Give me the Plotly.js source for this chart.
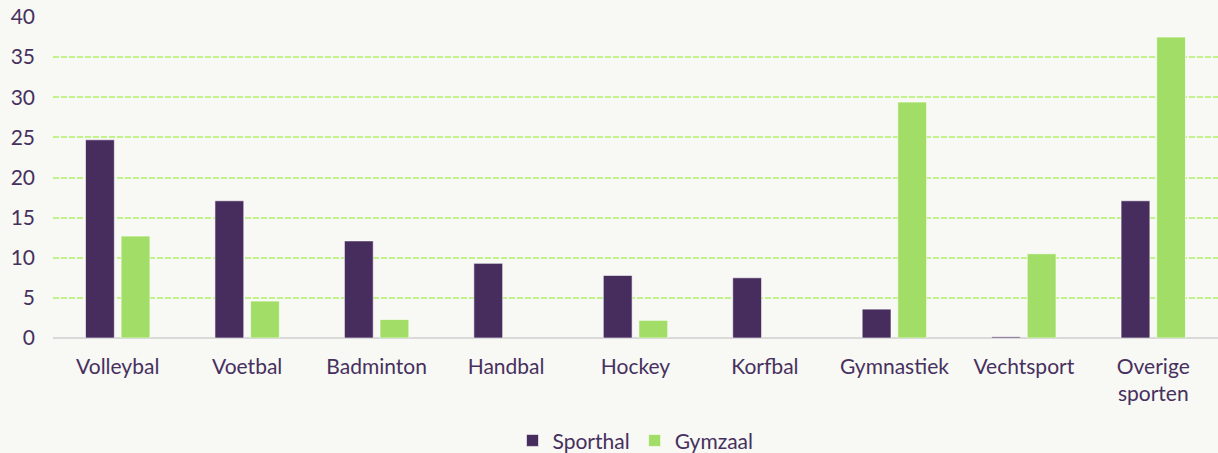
<!DOCTYPE html>
<html>
<head>
<meta charset="utf-8">
<script src="https://cdn.plot.ly/plotly-3.0.1.min.js"></script>
<style>
html,body{margin:0;padding:0;background:#f8f8f4;}
#chart{width:1218px;height:453px;}
</style>
</head>
<body>
<div id="chart"></div>
<script>
const categories = ["Volleybal","Voetbal","Badminton","Handbal","Hockey","Korfbal","Gymnastiek","Vechtsport","Overige<br>sporten"];
const sporthal = [24.7, 17.1, 12.1, 9.3, 7.8, 7.5, 3.6, 0.15, 17.1];
const gymzaal = [12.7, 4.6, 2.3, 0, 2.2, 0, 29.4, 10.5, 37.5];
const yTicks = [0,5,10,15,20,25,30,35,40];

const textColor = "#46305e";
const outline = vals => ({color:"rgba(255,255,255,0.6)", width: vals.map(v => v > 0 ? 1 : 0)});
const traces = [
  {type:"bar", name:"Sporthal", x:categories, y:sporthal,
   marker:{color:"#472c5e", line:outline(sporthal)}, hoverinfo:"skip"},
  {type:"bar", name:"Gymzaal", x:categories, y:gymzaal,
   marker:{color:"#a2de67", line:outline(gymzaal)}, hoverinfo:"skip"}
];
const layout = {
  width:1218, height:453,
  paper_bgcolor:"#f8f8f4", plot_bgcolor:"#f8f8f4",
  margin:{l:53, r:0, t:17, b:115, autoexpand:false},
  font:{family:"Lato, 'Open Sans', sans-serif", size:21, color:textColor},
  barmode:"group", bargap:0.45, bargroupgap:0.19,
  showlegend:true,
  legend:{orientation:"h", x:0.5, xanchor:"center", yref:"container", y:0.027, yanchor:"middle",
          font:{size:21, color:textColor}, itemwidth:30, tracegroupgap:0},
  xaxis:{type:"category", showgrid:false, zeroline:false, showline:false, ticks:"", automargin:false,
         tickfont:{size:21,color:textColor}, tickangle:0, ticklabelstandoff:14},
  yaxis:{range:[0,40], tickvals:yTicks, ticktext:yTicks.map(String), showgrid:true, gridcolor:"#c2f38a", griddash:"6px,2px", gridwidth:2,
         zeroline:true, zerolinecolor:"#d9d9d9", zerolinewidth:2, showline:false, ticks:"", ticklabelstandoff:17, automargin:false,
         tickfont:{size:21,color:textColor}}
};
Plotly.newPlot("chart", traces, layout, {staticPlot:true});
</script>
</body>
</html>
